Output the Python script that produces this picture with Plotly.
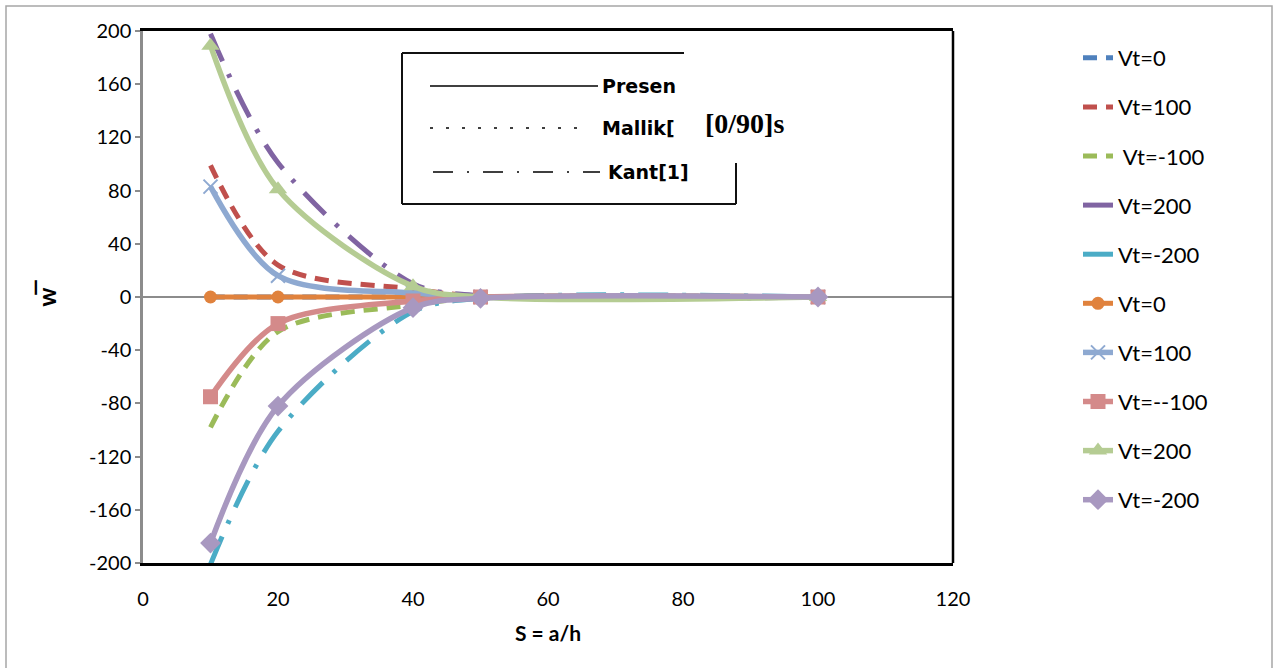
import plotly.graph_objects as go

# ---------------- data ----------------
S = [10, 20, 40, 50, 100]

# Mallik[] (dashed)
mallik_vt0 = [0, 0, 0, 0, 0]
mallik_vt100 = [99, 24, 6, 0.5, 0]
mallik_vtm100 = [-98, -26, -6, -0.5, 0]
# Kant[1] (long dash-dot)
kant_vt200 = [198, 101, 10, 1, 0]
kant_vtm200 = [-201, -101, -11, -1, 0]
# Present (solid with markers)
pres_vt0 = [0, 0, 0, 0, 0]
pres_vt100 = [83, 16, 3, 0, 0]
pres_vtm100 = [-75, -20, -3, 0, 0]
pres_vt200 = [189, 81, 8, 0, 0]
pres_vtm200 = [-185, -82, -8, -1, 0]

names = ["Vt=0", "Vt=100", " Vt=-100", "Vt=200", "Vt=-200",
         "Vt=0", "Vt=100", "Vt=--100", "Vt=200", "Vt=-200"]

xticks = [0, 20, 40, 60, 80, 100, 120]
yticks = [-200, -160, -120, -80, -40, 0, 40, 80, 120, 160, 200]

# ---------------- figure ----------------
W, H = 1277, 668
L, R, T, B = 143, 953, 31, 563


def px(x):
    return (x - L) / (R - L)


def py(y):
    return (B - y) / (B - T)


fig = go.Figure()

dash_m = "14px,9px"
dash_k = "30px,14px,4px,14px"

series = [
    (mallik_vt0, "#4F81BD", dash_m, 5, None, 0),
    (mallik_vt100, "#C0504D", dash_m, 5, None, 0),
    (mallik_vtm100, "#9BBB59", dash_m, 5, None, 0),
    (kant_vt200, "#8064A2", dash_k, 5, None, 0),
    (kant_vtm200, "#4BACC6", dash_k, 5, None, 0),
    (pres_vt0, "#E0823D", "solid", 5, "circle", 13),
    (pres_vt100, "#8EA9D1", "solid", 5.5, "x-thin", 14),
    (pres_vtm100, "#D48A8A", "solid", 5.5, "square", 15),
    (pres_vt200, "#B5CC93", "solid", 5.5, "triangle-up", 16),
    (pres_vtm200, "#A898C0", "solid", 5.5, "diamond", 16),
]

for i, (vals, col, dash, lw, sym, ms) in enumerate(series):
    if sym is None:
        mode = "lines"
        marker = None
    else:
        mode = "lines+markers"
        marker = dict(symbol=sym, size=ms, color=col,
                      line=dict(color=col, width=2 if sym == "x-thin" else 0))
    fig.add_trace(go.Scatter(
        x=S, y=vals, name=names[i], mode=mode,
        line=dict(color=col, width=lw, dash=dash, shape="spline", smoothing=0.9),
        marker=marker, legendgroup=f"g{i}", cliponaxis=True,
    ))

shapes = []
# outer chart border
shapes.append(dict(type="rect", xref="paper", yref="paper",
                   x0=px(6), x1=px(1272), y0=py(675), y1=py(6),
                   line=dict(color="#A6A6A6", width=1.5), layer="below"))
# right border of the plot area
shapes.append(dict(type="line", xref="paper", yref="paper",
                   x0=1, x1=1, y0=0, y1=1, line=dict(color="black", width=2.5)))
# inner key box (pasted image)
bk = dict(color="#111111", width=2)
shapes += [
    dict(type="line", xref="paper", yref="paper", x0=px(402), x1=px(684), y0=py(53), y1=py(53), line=bk),
    dict(type="line", xref="paper", yref="paper", x0=px(402), x1=px(402), y0=py(53), y1=py(204), line=bk),
    dict(type="line", xref="paper", yref="paper", x0=px(402), x1=px(736), y0=py(204), y1=py(204), line=bk),
    dict(type="line", xref="paper", yref="paper", x0=px(736), x1=px(736), y0=py(163), y1=py(204), line=bk),
    dict(type="line", xref="paper", yref="paper", x0=px(430), x1=px(598), y0=py(86), y1=py(86),
         line=dict(color="black", width=1.5)),
    dict(type="line", xref="paper", yref="paper", x0=px(430), x1=px(582), y0=py(128), y1=py(128),
         line=dict(color="black", width=1.5, dash="3px,13px")),
    dict(type="line", xref="paper", yref="paper", x0=px(433), x1=px(600), y0=py(172), y1=py(172),
         line=dict(color="black", width=1.5, dash="20px,14px,2px,14px")),
]

kfont = dict(family="DejaVu Sans", size=19, color="black")
annotations = [
    dict(xref="paper", yref="paper", x=px(600), y=py(86), text="<b>Presen</b>",
         showarrow=False, xanchor="left", yanchor="middle", font=kfont),
    dict(xref="paper", yref="paper", x=px(600), y=py(128), text="<b>Mallik[</b>",
         showarrow=False, xanchor="left", yanchor="middle", font=kfont),
    dict(xref="paper", yref="paper", x=px(606), y=py(172), text="<b>Kant[1]</b>",
         showarrow=False, xanchor="left", yanchor="middle", font=kfont),
    dict(xref="paper", yref="paper", x=px(703), y=py(123), text="<b>[0/90]s</b>",
         showarrow=False, xanchor="left", yanchor="middle", bgcolor="white",
         font=dict(family="Liberation Serif", size=28, color="black")),
]

fig.update_layout(
    width=W, height=H,
    margin=dict(l=L, r=W - R, t=T, b=H - B, pad=0),
    paper_bgcolor="white", plot_bgcolor="white",
    font=dict(family="Lato", size=20, color="black"),
    shapes=shapes, annotations=annotations,
    legend=dict(x=px(1078), xanchor="left", y=py(37), yanchor="top",
                font=dict(family="Lato", size=22, color="black"),
                tracegroupgap=17.5, bgcolor="rgba(0,0,0,0)", itemwidth=30),
    showlegend=True,
)

fig.update_xaxes(
    range=[0, 120], tickvals=xticks, ticktext=[str(v) for v in xticks],
    showgrid=False, zeroline=False,
    showline=True, linecolor="black", linewidth=2.5, mirror=True,
    ticks="", ticklabelstandoff=16,
    tickfont=dict(family="Lato", size=20),
    title=dict(text="<b>S = a/h</b>", font=dict(family="Lato", size=21), standoff=18),
)
fig.update_yaxes(
    range=[-200, 200], tickvals=yticks, ticktext=[str(v) for v in yticks],
    showgrid=False, zeroline=True, zerolinecolor="#8C8C8C", zerolinewidth=2,
    showline=True, linecolor="#8C8C8C", linewidth=2.5, mirror=False,
    ticks="outside", ticklen=5, tickcolor="#8C8C8C", tickwidth=1.5,
    tickfont=dict(family="Lato", size=20),
    title=dict(text="<b>w\u0305</b>", font=dict(family="Lato", size=24), standoff=26),
)

fig.write_html("out.html")
